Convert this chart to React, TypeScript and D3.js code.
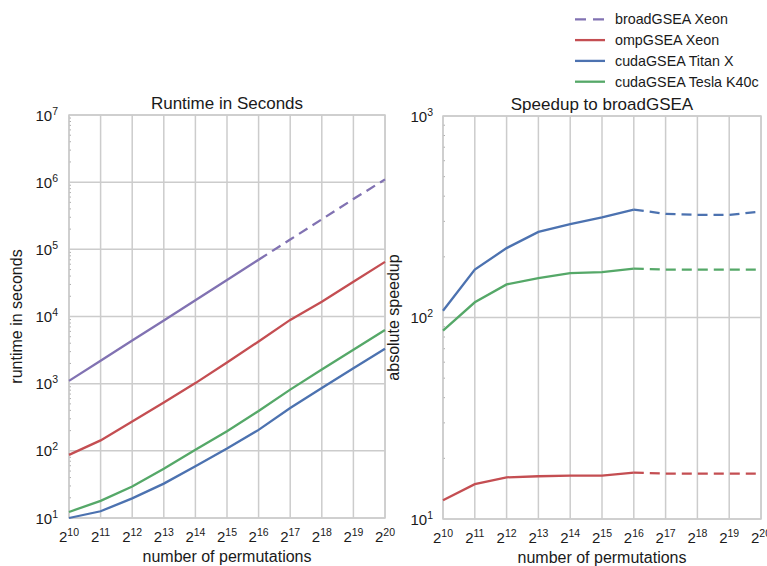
import React, { useEffect, useRef } from "react";
import * as d3 from "d3";

// x categories: number of permutations as powers of two
const permExponents = [10, 11, 12, 13, 14, 15, 16, 17, 18, 19, 20];

// runtime in seconds (left panel)
const runtimeBroad = [1100, 2200, 4400, 8700, 17500, 35000, 70000, 140000, 280000, 560000, 1100000];
const runtimeOmp = [87, 143, 273, 525, 1020, 2070, 4250, 8900, 16600, 33000, 65000];
const runtimeK40 = [12.3, 18, 29.5, 54, 104, 196, 392, 815, 1630, 3200, 6300];
const runtimeTitan = [10, 12.6, 19.6, 32.5, 59, 108, 205, 435, 860, 1700, 3300];

// absolute speedup to broadGSEA (right panel)
const speedupTitan = [108, 173, 221, 266, 291, 314, 343, 327, 323, 323, 336];
const speedupK40 = [86, 119, 146, 157, 166, 168, 175, 173, 173, 173, 173];
const speedupOmp = [12.4, 14.9, 16.1, 16.3, 16.4, 16.4, 17.0, 16.8, 16.8, 16.8, 16.8];

// index where measured data stops and extrapolation (dashed) begins
const measuredUntil = 6;

const leftTicks = [1, 2, 3, 4, 5, 6, 7];
const rightTicks = [1, 2, 3];

const legendItems = [
  { label: "broadGSEA Xeon", color: "#8172B2", dashed: true },
  { label: "ompGSEA Xeon", color: "#C44E52", dashed: false },
  { label: "cudaGSEA Titan X", color: "#4C72B0", dashed: false },
  { label: "cudaGSEA Tesla K40c", color: "#55A868", dashed: false },
];

const FONT = "Arial, 'Liberation Sans', sans-serif";
const GRID = "#cccccc";
const INK = "#1a1a1a";
const LW = 2.3;

export default function App() {
  const svgRef = useRef<SVGSVGElement>(null);

  useEffect(() => {
    const svg = d3.select(svgRef.current);
    svg.selectAll("*").remove();

    const drawPanel = (opts: {
      left: number;
      right: number;
      top: number;
      bottom: number;
      decades: number[];
      title: string;
      ylabel: string;
      ylabelX: number;
      tickGap: number;
      series: { values: number[]; color: string; dashFrom: number | null }[];
    }) => {
      const { left, right, top, bottom, decades } = opts;
      const x = d3.scaleLinear().domain([10, 20]).range([left, right]);
      const y = d3
        .scaleLog()
        .domain([Math.pow(10, decades[0]), Math.pow(10, decades[decades.length - 1])])
        .range([bottom, top]);

      const g = svg.append("g");

      // grid
      g.selectAll(".vgrid")
        .data(permExponents)
        .join("line")
        .attr("x1", (d) => x(d))
        .attr("x2", (d) => x(d))
        .attr("y1", top)
        .attr("y2", bottom)
        .attr("stroke", GRID)
        .attr("stroke-width", 1.5);
      g.selectAll(".hgrid")
        .data(decades)
        .join("line")
        .attr("x1", left)
        .attr("x2", right)
        .attr("y1", (d) => y(Math.pow(10, d)))
        .attr("y2", (d) => y(Math.pow(10, d)))
        .attr("stroke", GRID)
        .attr("stroke-width", 1.5);

      // minor ticks on the left spine
      const minors: number[] = [];
      decades.slice(0, -1).forEach((d) => {
        for (let k = 2; k < 10; k++) minors.push(k * Math.pow(10, d));
      });
      g.selectAll(".minor")
        .data(minors)
        .join("line")
        .attr("x1", left)
        .attr("x2", left + 2)
        .attr("y1", (d) => y(d))
        .attr("y2", (d) => y(d))
        .attr("stroke", "#999")
        .attr("stroke-width", 0.8);

      // frame
      g.append("rect")
        .attr("x", left)
        .attr("y", top)
        .attr("width", right - left)
        .attr("height", bottom - top)
        .attr("fill", "none")
        .attr("stroke", GRID)
        .attr("stroke-width", 1.5);

      // lines
      const line = d3
        .line<[number, number]>()
        .x((d) => x(d[0]))
        .y((d) => y(d[1]));
      opts.series.forEach((s) => {
        const pts = permExponents.map((e, i) => [e, s.values[i]] as [number, number]);
        if (s.dashFrom === null) {
          g.append("path")
            .attr("d", line(pts))
            .attr("fill", "none")
            .attr("stroke", s.color)
            .attr("stroke-width", LW);
        } else {
          g.append("path")
            .attr("d", line(pts.slice(0, s.dashFrom + 1)))
            .attr("fill", "none")
            .attr("stroke", s.color)
            .attr("stroke-width", LW);
          g.append("path")
            .attr("d", line(pts.slice(s.dashFrom)))
            .attr("fill", "none")
            .attr("stroke", s.color)
            .attr("stroke-width", LW)
            .attr("stroke-dasharray", "10,6");
        }
      });

      // x tick labels (2^n)
      const xt = g
        .selectAll(".xt")
        .data(permExponents)
        .join("text")
        .attr("x", (d) => x(d))
        .attr("y", bottom + 23.5)
        .attr("text-anchor", "middle")
        .attr("font-family", FONT)
        .attr("font-size", 15)
        .attr("fill", INK);
      xt.append("tspan").text("2");
      xt.append("tspan")
        .attr("dy", -6)
        .attr("font-size", 10.5)
        .text((d) => String(d));

      // y tick labels (10^n)
      const yt = g
        .selectAll(".yt")
        .data(decades)
        .join("text")
        .attr("x", left - opts.tickGap)
        .attr("y", (d) => y(Math.pow(10, d)) + 5.5)
        .attr("text-anchor", "end")
        .attr("font-family", FONT)
        .attr("font-size", 15)
        .attr("fill", INK);
      yt.append("tspan").text("10");
      yt.append("tspan")
        .attr("dy", -6)
        .attr("font-size", 10.5)
        .text((d) => String(d));

      // title and axis labels
      g.append("text")
        .attr("x", (left + right) / 2)
        .attr("y", top - 6)
        .attr("text-anchor", "middle")
        .attr("font-family", FONT)
        .attr("font-size", 17)
        .attr("fill", INK)
        .text(opts.title);
      g.append("text")
        .attr("x", (left + right) / 2)
        .attr("y", bottom + 44)
        .attr("text-anchor", "middle")
        .attr("font-family", FONT)
        .attr("font-size", 16)
        .attr("fill", INK)
        .text("number of permutations");
      g.append("text")
        .attr("transform", `translate(${opts.ylabelX},${(top + bottom) / 2}) rotate(-90)`)
        .attr("text-anchor", "middle")
        .attr("font-family", FONT)
        .attr("font-size", 16)
        .attr("fill", INK)
        .text(opts.ylabel);
    };

    drawPanel({
      left: 69,
      right: 385,
      top: 115,
      bottom: 518,
      decades: leftTicks,
      title: "Runtime in Seconds",
      ylabel: "runtime in seconds",
      ylabelX: 22,
      tickGap: 11,
      series: [
        { values: runtimeBroad, color: "#8172B2", dashFrom: measuredUntil },
        { values: runtimeOmp, color: "#C44E52", dashFrom: null },
        { values: runtimeK40, color: "#55A868", dashFrom: null },
        { values: runtimeTitan, color: "#4C72B0", dashFrom: null },
      ],
    });

    drawPanel({
      left: 443,
      right: 761,
      top: 116,
      bottom: 519,
      decades: rightTicks,
      title: "Speedup to broadGSEA",
      ylabel: "absolute speedup",
      ylabelX: 399,
      tickGap: 10,
      series: [
        { values: speedupOmp, color: "#C44E52", dashFrom: measuredUntil },
        { values: speedupK40, color: "#55A868", dashFrom: measuredUntil },
        { values: speedupTitan, color: "#4C72B0", dashFrom: measuredUntil },
      ],
    });

    // legend
    const lg = svg.append("g");
    legendItems.forEach((item, i) => {
      const cy = 19.3 + i * 20.8;
      lg.append("line")
        .attr("x1", 575)
        .attr("x2", 605)
        .attr("y1", cy)
        .attr("y2", cy)
        .attr("stroke", item.color)
        .attr("stroke-width", LW)
        .attr("stroke-dasharray", item.dashed ? "11,7" : null);
      lg.append("text")
        .attr("x", 615)
        .attr("y", cy + 5)
        .attr("font-family", FONT)
        .attr("font-size", 14.3)
        .attr("fill", INK)
        .text(item.label);
    });
  }, []);

  return (
    <div style={{ position: "fixed", left: 0, top: 0, background: "#fff" }}>
      <svg ref={svgRef} width={767} height={566} />
    </div>
  );
}
